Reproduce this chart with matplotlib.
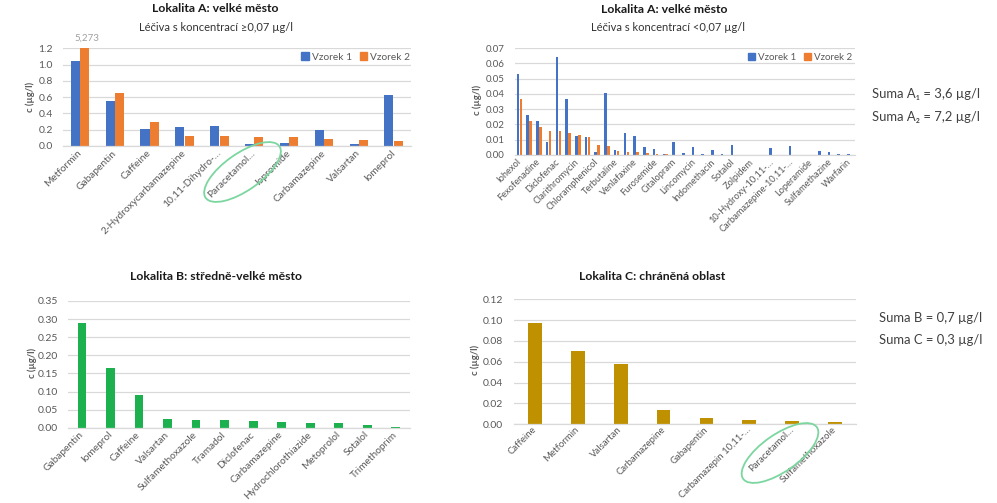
import matplotlib
matplotlib.use('Agg')
import matplotlib.pyplot as plt
from matplotlib.patches import Ellipse, Patch
import numpy as np

plt.rcParams['font.family'] = ['Lato', 'DejaVu Sans']

# ---------------- data ----------------
a_high_cats = ['Metformin', 'Gabapentin', 'Caffeine', '2-Hydroxycarbamazepine',
               '10,11-Dihydro-…', 'Paracetamol…', 'Iopromide', 'Carbamazepine',
               'Valsartan', 'Iomeprol']
a_high_v1 = [1.05, 0.553, 0.209, 0.233, 0.25, 0.025, 0.037, 0.192, 0.025, 0.622]
a_high_v2 = [5.273, 0.647, 0.291, 0.123, 0.123, 0.115, 0.115, 0.09, 0.074, 0.066]

a_low_labels = ['Iohexol', 'Fexofenadine', 'Diclofenac', 'Clarithromycin',
                'Chloramphenicol', 'Terbutaline', 'Venlafaxine', 'Furosemide',
                'Citalopram', 'Lincomycin', 'Indomethacin', 'Sotalol', 'Zolpidem',
                '10-Hydroxy-10,11-…', 'Carbamazepine-10,11-…', 'Loperamide',
                'Sulfamethazine', 'Warfarin']
a_low_v1 = [0.0531, 0.026, 0.0223, 0.0082, 0.064, 0.0369, 0.0124, 0.0115, 0.0017,
            0.0408, 0.0033, 0.0147, 0.0124, 0.005, 0.0039, 0.0004, 0.0082, 0.0011,
            0.0054, 0.0009, 0.0033, 0.0009, 0.0063, 0.0, 0.0, 0.0, 0.0048, 0.0,
            0.0059, 0.0, 0.0, 0.0026, 0.002, 0.0007, 0.0007]
a_low_v2 = [0.0369, 0.0223, 0.018, 0.0158, 0.0154, 0.0143, 0.0132, 0.0119, 0.0067,
            0.0059, 0.0026, 0.002, 0.002, 0.0011, 0.0009, 0.0004, 0.0003, 0.0003,
            0.0003, 0.0002, 0.0, 0.0, 0.0, 0.0, 0.0, 0.0, 0.0, 0.0, 0.0, 0.0, 0.0,
            0.0, 0.0, 0.0, 0.0]

b_cats = ['Gabapentin', 'Iomeprol', 'Caffeine', 'Valsartan', 'Sulfamethoxazole',
          'Tramadol', 'Diclofenac', 'Carbamazepine', 'Hydrochlorothiazide',
          'Metoprolol', 'Sotalol', 'Trimethoprim']
b_vals = [0.288, 0.166, 0.091, 0.024, 0.021, 0.021, 0.019, 0.0166, 0.014, 0.014,
          0.008, 0.003]

c_cats = ['Caffeine', 'Metformin', 'Valsartan', 'Carbamazepine', 'Gabapentin',
          'Carbamazepin 10,11-…', 'Paracetamol…', 'Sulfamethoxazole']
c_vals = [0.0976, 0.0704, 0.0582, 0.0138, 0.0061, 0.0045, 0.0029, 0.0026]

series_names = ['Vzorek 1', 'Vzorek 2']

# ---------------- style ----------------
BLUE = '#4472C4'
ORANGE = '#ED7D31'
GREEN = '#1DB04F'
GOLD = '#BF9000'
GRID = '#D9D9D9'
TXT = '#595959'
DARK = '#1A1A1A'

W, H = 997, 503
fig = plt.figure(figsize=(W / 100, H / 100), dpi=100)


def px_axes(l, t, r, b):
    return fig.add_axes([l / W, 1 - b / H, (r - l) / W, (b - t) / H])


def style(ax, n, ymax, step, fmt, ypad, fs_y=7.5):
    ax.set_xlim(-0.5, n - 0.5)
    ax.set_ylim(0, ymax)
    ticks = np.arange(0, ymax + step / 2, step)
    ax.set_yticks(ticks)
    ax.set_yticklabels([fmt % v for v in ticks], fontsize=fs_y, color=TXT)
    for s in ['top', 'right', 'left']:
        ax.spines[s].set_visible(False)
    ax.spines['bottom'].set_color(GRID)
    ax.spines['bottom'].set_linewidth(0.9)
    ax.grid(axis='y', color=GRID, linewidth=0.9)
    ax.set_axisbelow(True)
    ax.tick_params(axis='both', length=0)
    ax.tick_params(axis='y', pad=ypad)


def xlabels(ax, pos, labels, fs=7, pad=3):
    ax.set_xticks(pos)
    ax.set_xticklabels(labels, rotation=45, ha='right', va='center',
                       rotation_mode='anchor', fontsize=fs, color=TXT)
    ax.tick_params(axis='x', pad=pad)


# ---- top-left
ax1 = px_axes(62.6, 48.3, 411, 146)
x = np.arange(len(a_high_cats))
ax1.bar(x - 0.135, a_high_v1, 0.26, color=BLUE, label=series_names[0])
ax1.bar(x + 0.135, a_high_v2, 0.26, color=ORANGE, label=series_names[1])
style(ax1, len(a_high_cats), 1.2, 0.2, '%.1f', 7)
xlabels(ax1, x, a_high_cats, fs=7.3, pad=4)
ax1.annotate('5,273', xy=(0.2, 1.2), xytext=(0, 4), textcoords='offset points',
             ha='center', va='bottom', fontsize=7, color='#A0A0A0',
             annotation_clip=False)
ax1.legend(handles=[Patch(color=BLUE), Patch(color=ORANGE)], labels=series_names,
           loc='center right', bbox_to_anchor=(410 / W, 1 - 57 / H),
           bbox_transform=fig.transFigure, ncol=2, frameon=False, fontsize=7.3,
           handlelength=0.7, handleheight=0.7, handletextpad=0.3,
           columnspacing=0.8, borderaxespad=0, borderpad=0, labelcolor=TXT)

# ---- top-right
ax2 = px_axes(514.6, 48, 854.8, 155)
x2 = np.arange(len(a_low_v1))
ax2.bar(x2 - 0.15, a_low_v1, 0.26, color=BLUE)
ax2.bar(x2 + 0.15, a_low_v2, 0.26, color=ORANGE)
style(ax2, len(a_low_v1), 0.07, 0.01, '%.2f', 7, fs_y=7)
xlabels(ax2, x2[::2], a_low_labels, fs=6.7, pad=4)
ax2.legend(handles=[Patch(color=BLUE), Patch(color=ORANGE)], labels=series_names,
           loc='center right', bbox_to_anchor=(852 / W, 1 - 57.5 / H),
           bbox_transform=fig.transFigure, ncol=2, frameon=False, fontsize=7,
           handlelength=0.7, handleheight=0.7, handletextpad=0.3,
           columnspacing=0.8, borderaxespad=0, borderpad=0, labelcolor=TXT)

# ---- bottom-left
ax3 = px_axes(67.7, 301, 410, 427.7)
x3 = np.arange(len(b_cats))
ax3.bar(x3, b_vals, 0.31, color=GREEN)
style(ax3, len(b_cats), 0.35, 0.05, '%.2f', 7)
xlabels(ax3, x3, b_cats, fs=7.3, pad=4)

# ---- bottom-right
ax4 = px_axes(513.6, 299.3, 856.4, 424.3)
x4 = np.arange(len(c_cats))
ax4.bar(x4, c_vals, 0.32, color=GOLD)
style(ax4, len(c_cats), 0.12, 0.02, '%.2f', 7.5)
xlabels(ax4, x4, c_cats, fs=6.9, pad=3)

# ---------------- overlay for free text & ellipses ----------------
ov = fig.add_axes([0, 0, 1, 1])
ov.set_xlim(0, W)
ov.set_ylim(H, 0)
ov.axis('off')
ov.set_zorder(10)
ov.patch.set_alpha(0)

tkw = dict(ha='center', va='center', color=DARK)
ov.text(215, 8.5, 'Lokalita A: velké město', fontsize=8.8, fontweight='bold', **tkw)
ov.text(216, 27.5, 'Léčiva s koncentrací ≥0,07 µg/l', fontsize=8, color='#333333',
        ha='center', va='center')
ov.text(664, 9.5, 'Lokalita A: velké město', fontsize=8.8, fontweight='bold', **tkw)
ov.text(668, 27, 'Léčiva s koncentrací <0,07 µg/l', fontsize=8, color='#333333',
        ha='center', va='center')
ov.text(216, 276.5, 'Lokalita B: středně-velké město', fontsize=8.8, fontweight='bold', **tkw)
ov.text(652, 277, 'Lokalita C: chráněná oblast', fontsize=8.8, fontweight='bold', **tkw)

ykw = dict(ha='center', va='center', rotation=90, fontsize=6.8,
           fontweight='bold', color=TXT)
ov.text(30, 97, 'c (µg/l)', **ykw)
ov.text(477, 100, 'c (µg/l)', **ykw)
ov.text(32, 363, 'c (µg/l)', **ykw)
ov.text(475, 360, 'c (µg/l)', **ykw)

skw = dict(ha='left', va='center', fontsize=9.4, color='#404040')
ov.text(872, 94, 'Suma A₁ = 3,6 µg/l', **skw)
ov.text(872, 117, 'Suma A₂ = 7,2 µg/l', **skw)
ov.text(879, 318, 'Suma B = 0,7 µg/l', **skw)
ov.text(879, 340, 'Suma C = 0,3 µg/l', **skw)

for cx, cy in [(242.5, 172), (780, 453)]:
    ov.add_patch(Ellipse((cx, cy), 90, 37, angle=-35, fill=False,
                         edgecolor='#7CD6A0', linewidth=1.3))

fig.savefig('out.png', dpi=100, facecolor='white')
